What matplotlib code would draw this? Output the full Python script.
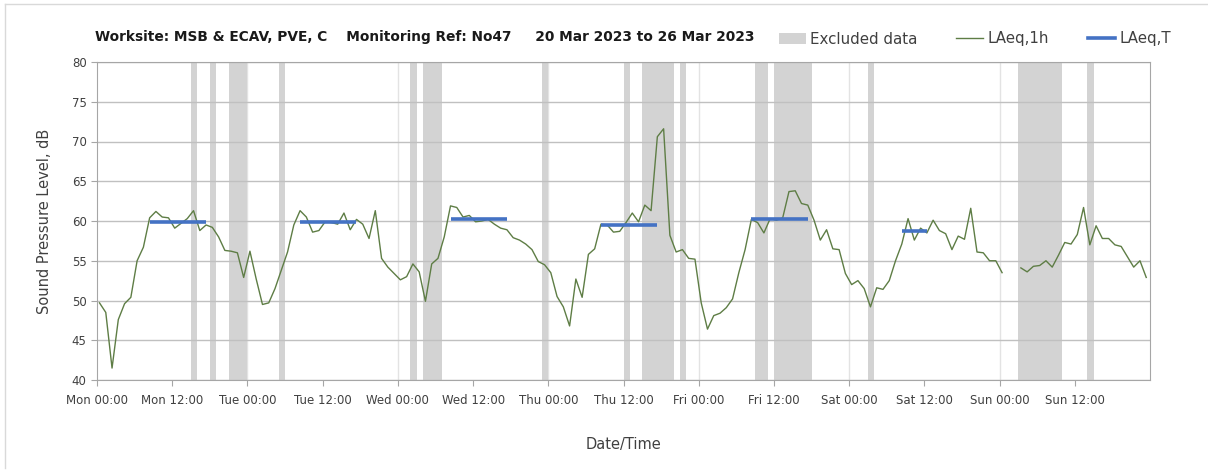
import numpy as np
import matplotlib.pyplot as plt
from matplotlib.patches import Patch
from matplotlib.lines import Line2D

# Hourly LAeq,1h values, Mon 00:00 (hour 0) to Sun 23:00 (hour 167), None = no data
laeq_1h = [
    49.7, 48.5, 41.5, 47.6, 49.6, 50.4, 55.0, 56.7, 60.4, 61.2, 60.5, 60.4,
    59.1, 59.7, 60.3, 61.3, 58.8, 59.5, 59.2, 58.0, 56.3, 56.2, 56.0, 52.9,
    56.2, 52.7, 49.5, 49.7, 51.5, 53.8, 56.1, 59.5, 61.3, 60.5, 58.6, 58.8,
    59.9, 59.8, 59.6, 61.0, 58.9, 60.2, 59.6, 57.8, 61.3, 55.3, 54.2, 53.4,
    52.6, 53.0, 54.6, 53.6, 49.9, 54.6, 55.3, 58.0, 61.9, 61.7, 60.5, 60.7,
    59.9, 60.0, 60.2, 59.6, 59.1, 58.9, 57.9, 57.6, 57.1, 56.4, 54.9, 54.5,
    53.5, 50.5, 49.2, 46.8, 52.7, 50.4, 55.8, 56.5, 59.6, 59.5, 58.6, 58.7,
    59.8, 61.0, 59.9, 62.0, 61.3, 70.6, 71.6, 58.2, 56.1, 56.4, 55.3, 55.2,
    49.7, 46.4, 48.1, 48.4, 49.1, 50.2, 53.5, 56.4, 60.2, 59.8, 58.5, 60.3,
    60.1, 60.4, 63.7, 63.8, 62.2, 62.0, 60.1, 57.6, 58.9, 56.5, 56.4, 53.4,
    52.0, 52.5, 51.5, 49.2, 51.6, 51.4, 52.5, 55.0, 57.1, 60.3, 57.6, 59.1,
    58.5, 60.1, 58.8, 58.4, 56.4, 58.1, 57.7, 61.6, 56.1, 56.0, 55.0, 55.0,
    53.5, None, None, 54.1, 53.6, 54.3, 54.4, 55.0, 54.2, 55.7, 57.3, 57.1,
    58.3, 61.7, 57.0, 59.4, 57.8, 57.8, 57.0, 56.8, 55.5, 54.2, 55.0, 52.9,
]

# LAeq,T periods: first hour, last hour, level
laeq_t_start = [8, 32, 56, 80, 104, 128]
laeq_t_end = [17, 41, 65, 89, 113, 132]
laeq_t_level = [59.9, 59.9, 60.3, 59.5, 60.3, 58.7]

# Excluded data periods (hours from Mon 00:00)
excl_start = [15, 18, 21, 29, 50, 52, 71, 84, 87, 93, 105, 108, 123, 147, 158]
excl_end = [16, 19, 24, 30, 51, 55, 72, 85, 92, 94, 107, 114, 124, 154, 159]

day_names = ["Mon", "Tue", "Wed", "Thu", "Fri", "Sat", "Sun"]
tick_labels = [f"{d} {t}" for d in day_names for t in ["00:00", "12:00"]]

title = ("Worksite: MSB & ECAV, PVE, C    Monitoring Ref: No47     "
         "20 Mar 2023 to 26 Mar 2023")

GREEN = "#5e7d45"
BLUE = "#4472c4"
GREY = "#d3d3d3"
OFFSET = 0.4  # data points sit slightly after the hour mark

plt.rcParams["font.family"] = ["DejaVu Sans"]

fig = plt.figure(figsize=(12.08, 4.70), dpi=100)
ax = fig.add_axes([97 / 1208, 1 - 380 / 470, (1150 - 97) / 1208, (380 - 62) / 470])

# outer frame
fig.add_artist(Line2D([5 / 1208, 5 / 1208], [1 - 468 / 470, 1 - 4 / 470],
                      color="#d9d9d9", lw=1, transform=fig.transFigure))
fig.add_artist(Line2D([5 / 1208, 1], [1 - 4 / 470, 1 - 4 / 470],
                      color="#d9d9d9", lw=1, transform=fig.transFigure))

for s, e in zip(excl_start, excl_end):
    ax.axvspan(s, e, color=GREY, lw=0, zorder=1)

hours = np.arange(len(laeq_1h)) + OFFSET
vals = np.array([np.nan if v is None else v for v in laeq_1h])
ax.plot(hours, vals, color=GREEN, lw=1.0, zorder=3)

for s, e, lv in zip(laeq_t_start, laeq_t_end, laeq_t_level):
    ax.plot([s + OFFSET, e + OFFSET], [lv, lv], color=BLUE, lw=2.6,
            solid_capstyle="butt", zorder=4)

ax.set_xlim(0, 168)
ax.set_ylim(40, 80)
ax.set_yticks(np.arange(40, 81, 5))
ax.set_xticks(np.arange(0, 168, 12))
ax.set_xticklabels(tick_labels)

ax.grid(axis="y", color="#c0c0c0", lw=1, zorder=0)
for d in range(1, 7):
    ax.axvline(d * 24, color="#e3e3e3", lw=1, zorder=0.5)

for sp in ax.spines.values():
    sp.set_color("#a6a6a6")
ax.tick_params(axis="both", colors="#a6a6a6", labelcolor="#404040",
               labelsize=8.5, length=4)
ax.tick_params(axis="x", pad=6)

ax.set_ylabel("Sound Pressure Level, dB", fontsize=10.5, color="#404040", labelpad=14)
ax.set_xlabel("Date/Time", fontsize=10.5, color="#404040", labelpad=22)

fig.text(95 / 1208, 1 - 37 / 470, title, fontsize=9.95, fontweight="bold",
         va="center", ha="left", color="#1a1a1a")

handles = [Patch(facecolor=GREY, edgecolor="none"),
           Line2D([], [], color=GREEN, lw=1.0),
           Line2D([], [], color=BLUE, lw=2.6)]
fig.legend(handles, ["Excluded data", "LAeq,1h", "LAeq,T"], ncol=3,
           loc="center left", bbox_to_anchor=(765 / 1208, 1 - 39 / 470),
           frameon=False, fontsize=10.8, handlelength=1.8, handletextpad=0.3,
           columnspacing=2.6, labelcolor="#404040")

fig.savefig("out.png", dpi=100)
